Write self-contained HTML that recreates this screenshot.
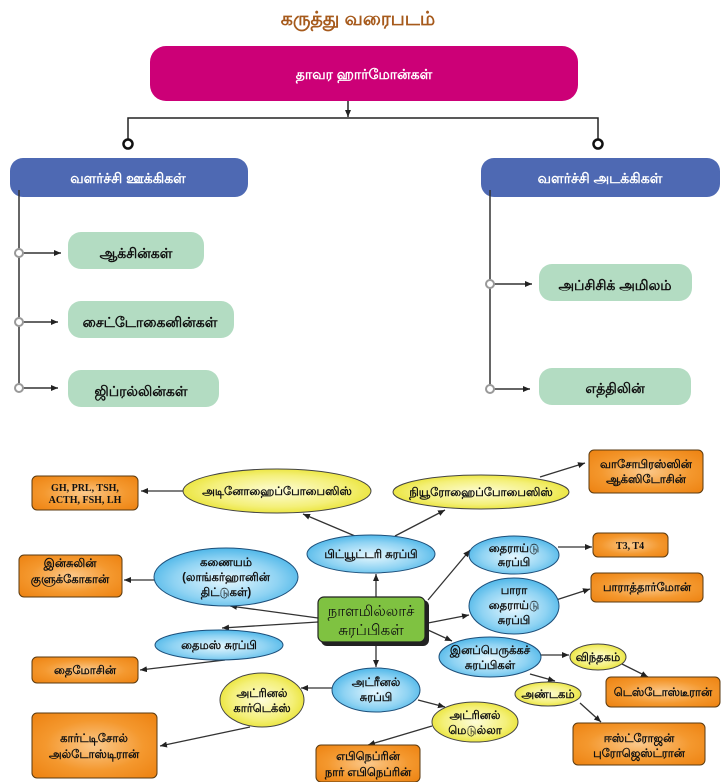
<!DOCTYPE html>
<html><head><meta charset="utf-8"><style>
html,body{margin:0;padding:0;background:#fff;}
svg{display:block;font-family:"Liberation Sans","Noto Sans CJK SC",sans-serif;}
</style></head><body>
<svg width="726" height="782" viewBox="0 0 726 782" xmlns="http://www.w3.org/2000/svg">
<defs>
<marker id="a" markerWidth="8" markerHeight="8" refX="7" refY="3" orient="auto" markerUnits="userSpaceOnUse"><path d="M0,0 L7,3 L0,6 Z" fill="#222"/></marker>
<radialGradient id="og" cx="50%" cy="50%" r="65%"><stop offset="0" stop-color="#fbc98c"/><stop offset="0.6" stop-color="#f4982e"/><stop offset="1" stop-color="#ee8515"/></radialGradient>
<radialGradient id="bg" cx="50%" cy="55%" r="60%"><stop offset="0" stop-color="#e6f7fe"/><stop offset="0.6" stop-color="#8fd3f3"/><stop offset="1" stop-color="#3fb0e6"/></radialGradient>
<radialGradient id="yg" cx="50%" cy="50%" r="60%"><stop offset="0" stop-color="#fdfcd8"/><stop offset="0.6" stop-color="#f4f07a"/><stop offset="1" stop-color="#e6df1e"/></radialGradient>
</defs>
<text x="358" y="25" text-anchor="middle" font-size="19" font-weight="bold" fill="#a65a1c">கருத்து வரைபடம்</text>
<rect x="150" y="46" width="428" height="55" rx="16" fill="#cc0077"/>
<text x="364" y="79" text-anchor="middle" font-size="14" font-weight="bold" fill="#fff">தாவர ஹார்மோன்கள்</text>
<g stroke="#222" stroke-width="1.5" fill="none">
<line x1="348" y1="101" x2="348" y2="117" marker-end="url(#a)"/>
<polyline points="128,140 128,118 598,118 598,140"/>
</g>
<circle cx="128" cy="144" r="4.5" fill="#fff" stroke="#111" stroke-width="2.5"/>
<circle cx="598" cy="144" r="4.5" fill="#fff" stroke="#111" stroke-width="2.5"/>
<rect x="10" y="158" width="238" height="39" rx="13" fill="#4e69b3"/>
<text x="128" y="183" text-anchor="middle" font-size="14" font-weight="bold" fill="#fff">வளர்ச்சி ஊக்கிகள்</text>
<rect x="481" y="158" width="239" height="39" rx="13" fill="#4e69b3"/>
<text x="600" y="183" text-anchor="middle" font-size="14" font-weight="bold" fill="#fff">வளர்ச்சி அடக்கிகள்</text>
<g stroke="#333" stroke-width="1.5" fill="none">
<line x1="19" y1="190" x2="19" y2="386"/>
<line x1="490" y1="190" x2="490" y2="386"/>
<line x1="23" y1="253" x2="61" y2="253" marker-end="url(#a)"/>
<line x1="23" y1="322" x2="58" y2="322" marker-end="url(#a)"/>
<line x1="23" y1="388" x2="58" y2="388" marker-end="url(#a)"/>
<line x1="494" y1="284" x2="532" y2="284" marker-end="url(#a)"/>
<line x1="494" y1="389" x2="530" y2="389" marker-end="url(#a)"/>
</g>
<g fill="#fff" stroke="#999" stroke-width="2">
<circle cx="19" cy="253" r="4"/><circle cx="19" cy="322" r="4"/><circle cx="19" cy="388" r="4"/>
<circle cx="490" cy="284" r="4"/><circle cx="490" cy="389" r="4"/>
</g>
<g fill="#b3dcc2">
<rect x="68" y="232" width="136" height="37" rx="13"/>
<rect x="68" y="301" width="166" height="37" rx="13"/>
<rect x="68" y="370" width="151" height="37" rx="13"/>
<rect x="539" y="264" width="153" height="37" rx="13"/>
<rect x="539" y="368" width="152" height="37" rx="13"/>
</g>
<g font-size="14" font-weight="bold" fill="#111" text-anchor="middle">
<text x="136" y="258">ஆக்சின்கள்</text>
<text x="150" y="327">சைட்டோகைனின்கள்</text>
<text x="141" y="396">ஜிப்ரல்லின்கள்</text>
<text x="615" y="290">அப்சிசிக் அமிலம்</text>
<text x="615" y="393">எத்திலின்</text>
</g>

<g stroke="#333" stroke-width="1.3" fill="none" marker-end="url(#a)">
<line x1="183" y1="491" x2="141" y2="491"/>
<line x1="355" y1="536" x2="303" y2="514"/>
<line x1="154" y1="580" x2="124" y2="580"/>
<line x1="318" y1="618" x2="230" y2="606"/>
<line x1="318" y1="622" x2="222" y2="628"/>
<line x1="225" y1="660" x2="140" y2="670"/>
<line x1="376" y1="597" x2="376" y2="574"/>
<line x1="376" y1="645" x2="376" y2="667"/>
<line x1="333" y1="688" x2="301" y2="688"/>
<line x1="250" y1="727" x2="160" y2="746"/>
<line x1="418" y1="700" x2="445" y2="707"/>
<line x1="432" y1="726" x2="368" y2="745"/>
<line x1="395" y1="536" x2="445" y2="510"/>
<line x1="540" y1="477" x2="585" y2="463"/>
<line x1="428" y1="600" x2="470" y2="550"/>
<line x1="558" y1="547" x2="592" y2="547"/>
<line x1="428" y1="623" x2="469" y2="615"/>
<line x1="556" y1="600" x2="590" y2="589"/>
<line x1="428" y1="630" x2="452" y2="641"/>
<line x1="541" y1="655" x2="569" y2="655"/>
<line x1="622" y1="664" x2="648" y2="677"/>
<line x1="530" y1="674" x2="555" y2="681"/>
<line x1="580" y1="703" x2="601" y2="722"/>
</g>

<g fill="url(#og)" stroke="#5a3a10" stroke-width="1">
<rect x="32" y="476" width="106" height="34" rx="5"/>
<rect x="19" y="555" width="103" height="42" rx="5"/>
<rect x="32" y="657" width="106" height="26" rx="5"/>
<rect x="32" y="713" width="125" height="65" rx="5"/>
<rect x="316" y="745" width="104" height="37" rx="5"/>
<rect x="589" y="450" width="114" height="43" rx="5"/>
<rect x="593" y="533" width="75" height="24" rx="5"/>
<rect x="591" y="573" width="112" height="29" rx="5"/>
<rect x="606" y="677" width="114" height="30" rx="5"/>
<rect x="573" y="723" width="132" height="42" rx="5"/>
</g>
<g fill="url(#bg)" stroke="#1d4f7a" stroke-width="1">
<ellipse cx="371" cy="554" rx="64" ry="19"/>
<ellipse cx="226" cy="577" rx="72" ry="29"/>
<ellipse cx="219" cy="645" rx="64" ry="15"/>
<ellipse cx="376" cy="690" rx="44" ry="22"/>
<ellipse cx="514" cy="555" rx="45" ry="19"/>
<ellipse cx="514" cy="606" rx="45" ry="28"/>
<ellipse cx="490" cy="657" rx="51" ry="20"/>
</g>
<g fill="url(#yg)" stroke="#444" stroke-width="1">
<ellipse cx="277" cy="491" rx="94" ry="22"/>
<ellipse cx="481" cy="492" rx="88" ry="17"/>
<ellipse cx="262" cy="700" rx="42" ry="27"/>
<ellipse cx="475" cy="722" rx="43" ry="20"/>
<ellipse cx="598" cy="657" rx="28" ry="13"/>
<ellipse cx="548" cy="694" rx="33" ry="12"/>
</g>
<rect x="321" y="600" width="108" height="46" rx="6" fill="#222"/>
<rect x="318" y="597" width="107" height="45" rx="6" fill="#7fc241" stroke="#222" stroke-width="1.2"/>
<g font-size="15" fill="#111" text-anchor="middle">
<text x="371" y="616">நாளமில்லாச்</text>
<text x="371" y="635">சுரப்பிகள்</text>
</g>

<g font-size="11.5" font-weight="bold" fill="#111" text-anchor="middle">
<text x="277" y="495">அடினோஹைப்போபைஸிஸ்</text>
<text x="481" y="496">நியூரோஹைப்போபைஸிஸ்</text>
<text x="371" y="558">பிட்யூட்டரி சுரப்பி</text>
<text x="226" y="566">கணையம்</text>
<text x="226" y="581">(லாங்கர்ஹானின்</text>
<text x="226" y="596">திட்டுகள்)</text>
<text x="219" y="649">தைமஸ் சுரப்பி</text>
<text x="376" y="686">அட்ரீனல்</text>
<text x="376" y="701">சுரப்பி</text>
<text x="262" y="697">அட்ரினல்</text>
<text x="262" y="712">கார்டெக்ஸ்</text>
<text x="475" y="719">அட்ரினல்</text>
<text x="475" y="734">மெடுல்லா</text>
<text x="514" y="552">தைராய்டு</text>
<text x="514" y="566">சுரப்பி</text>
<text x="514" y="594">பாரா</text>
<text x="514" y="609">தைராய்டு</text>
<text x="514" y="624">சுரப்பி</text>
<text x="490" y="654">இனப்பெருக்கச்</text>
<text x="490" y="669">சுரப்பிகள்</text>
<text x="598" y="661">விந்தகம்</text>
<text x="548" y="698">அண்டகம்</text>
<text x="70" y="583">குளுக்கோகான்</text>
<text x="70" y="567">இன்சுலின்</text>
<text x="85" y="674">தைமோசின்</text>
<text x="94" y="742">கார்ட்டிசோல்</text>
<text x="94" y="758">அல்டோஸ்டிரான்</text>
<text x="368" y="760">எபிநெப்ரின்</text>
<text x="368" y="776">நார் எபிநெப்ரின்</text>
<text x="646" y="468">வாசோபிரஸ்ஸின்</text>
<text x="646" y="483">ஆக்ஸிடோசின்</text>
<text x="647" y="591">பாராத்தார்மோன்</text>
<text x="663" y="696">டெஸ்டோஸ்டீரான்</text>
<text x="639" y="742">ஈஸ்ட்ரோஜன்</text>
<text x="639" y="757">புரோஜெஸ்ட்ரான்</text>
</g>
<g font-family="Liberation Serif,serif" font-size="10" font-weight="bold" fill="#111" text-anchor="middle">
<text x="85" y="491">GH, PRL, TSH,</text>
<text x="85" y="503">ACTH, FSH, LH</text>
<text x="630" y="549">T3, T4</text>
</g>
</svg>
</body></html>
